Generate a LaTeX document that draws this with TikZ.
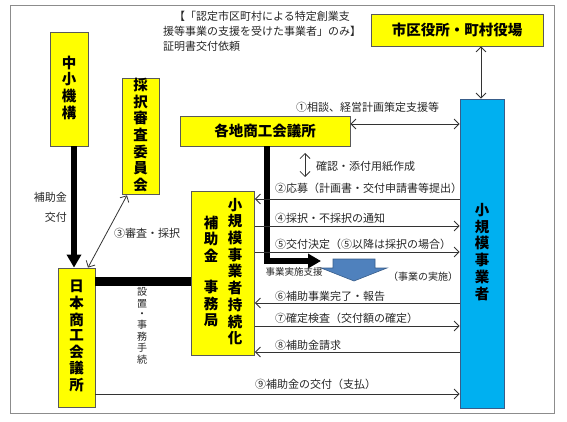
\documentclass[tikz,border=0pt]{standalone}
\usepackage{fontspec}
\setmainfont{Noto Sans CJK JP}
\usetikzlibrary{arrows.meta,positioning}
\definecolor{boxyellow}{RGB}{255,255,0}
\definecolor{boxcyan}{RGB}{0,176,240}
\definecolor{flowblue}{RGB}{79,129,189}
\definecolor{flowedge}{RGB}{56,93,138}
\newcommand{\tate}[1]{\begin{tabular}[c]{@{}c@{}}#1\end{tabular}}

\begin{document}
\begin{tikzpicture}[x=1pt,y=-1pt]
\tikzstyle{org}=[rectangle, draw=black!65, line width=0.8pt, fill=boxyellow, inner sep=0pt, font=\bfseries\fontsize{14.5}{14.5}\selectfont]
\tikzstyle{firm}=[org, fill=boxcyan, draw=flowedge]
\tikzstyle{lbl}=[inner sep=0pt, text=black!85, font=\fontsize{11}{15}\selectfont]
\tikzstyle{connect}=[-{Straight Barb[length=5pt,width=10pt]}, line width=0.8pt, black!80]
\tikzstyle{both}=[{Straight Barb[length=5pt,width=10pt]}-{Straight Barb[length=5pt,width=10pt]}, line width=0.8pt, black!80]
\tikzstyle{heavy}=[-{Triangle[length=13pt,width=14pt]}, line width=5.5pt]
\useasboundingbox (0,0) rectangle (567,422);
\draw[black!45, line width=0.8pt] (10,5) rectangle (554,413);

\node[org, minimum width=38, minimum height=114] (Kiko) at (69,89) {\tate{中\\小\\機\\構}};
\node[org, minimum width=37, minimum height=115] (Shinsa) at (140.5,136.5) {\tate{採\\択\\審\\査\\委\\員\\会}};
\node[org, minimum width=170, minimum height=30] (Kakuchi) at (265,131) {各地商工会議所};
\node[org, minimum width=172, minimum height=32] (Shiku) at (457,30) {市区役所・町村役場};
\node[firm, minimum width=44, minimum height=309] (Shokibo) at (482,253.5) {\tate{小\\規\\模\\事\\業\\者}};
\node[org, minimum width=63, minimum height=164] (Jimu) at (223,273)
  {\begin{tabular}{@{}c@{\hspace{9.5pt}}c@{}}\tate{補\\助\\金\\　\\事\\務\\局} & \tate{小\\規\\模\\事\\業\\者\\持\\続\\化}\end{tabular}};
\node[org, minimum width=37, minimum height=139] (Nissho) at (76.5,337.5) {\tate{日\\本\\商\\工\\会\\議\\所}};

\node[lbl, anchor=north west, align=left] (Shomei) at (163,11)
  {　【「認定市区町村による特定創業支\\援等事業の支援を受けた事業者」のみ】\\証明書交付依頼};

\coordinate (Row1) at (0,124);
\coordinate (Row2) at (0,199);
\coordinate (Row4) at (0,226);
\coordinate (Row5) at (0,252);
\coordinate (Row6) at (0,303);
\coordinate (Row7) at (0,326);
\coordinate (Row8) at (0,352);
\coordinate (Row9) at (0,394);
\coordinate (Setchi) at (0,281);
\coordinate (KakuninTop) at (305,153);
\coordinate (KakuninBot) at (305,177);
\coordinate (ShienEnd) at (321,261);

\draw[heavy] ([xshift=5pt]Kiko.south) -- ([xshift=-2.5pt]Nissho.north);
\draw[line width=9pt] (Nissho.east |- Setchi) -- (Jimu.west |- Setchi);
\draw[heavy] ([xshift=2pt]Kakuchi.south) |- (ShienEnd);
\draw[fill=flowblue, draw=flowedge, line width=0.6pt]
  (333,259) -- (375,259) -- (375,268) -- (387,268) -- (354,281) -- (321,268) -- (333,268) -- cycle;

\path
  ([xshift=-13.5pt]Shinsa.south) edge [both] ([xshift=11.5pt]Nissho.north)
  (Kakuchi.east |- Row1) edge [both] (Shokibo.west |- Row1)
  ([xshift=24pt]Shiku.south) edge [both] ([xshift=-1pt]Shokibo.north)
  (KakuninTop) edge [both] (KakuninBot)
  (Shokibo.west |- Row2) edge [connect] (Jimu.east |- Row2)
  (Jimu.east |- Row4) edge [connect] (Shokibo.west |- Row4)
  (Jimu.east |- Row5) edge [connect] (Shokibo.west |- Row5)
  (Shokibo.west |- Row6) edge [connect] (Jimu.east |- Row6)
  (Jimu.east |- Row7) edge [connect] (Shokibo.west |- Row7)
  (Shokibo.west |- Row8) edge [connect] (Jimu.east |- Row8)
  (Nissho.east |- Row9) edge [connect] (Shokibo.west |- Row9);

\node[lbl, anchor=east, align=right, font=\fontsize{11}{20}\selectfont] (HojoLbl) at (67,207) {補助金\\交付};
\node[lbl] (SaitakuLbl) at (147,233) {③審査・採択};
\node[lbl, font=\fontsize{10}{10.2}\selectfont] (SetchiLbl) at (142,327) {\tate{設\\置\\・\\事\\務\\手\\続}};
\node[lbl, anchor=west] (SodanLbl) at (296,107) {①相談、経営計画策定支援等};
\node[lbl, anchor=west] (KakuninLbl) at (316,166) {確認・添付用紙作成};
\node[lbl, anchor=west] (OboLbl) at (275,188) {②応募（計画書・交付申請書等提出）};
\node[lbl, anchor=west] (TsuchiLbl) at (275,218) {④採択・不採択の通知};
\node[lbl, anchor=west] (KetteiLbl) at (275,244) {⑤交付決定（⑤以降は採択の場合）};
\node[lbl, font=\fontsize{9.5}{11}\selectfont] (ShienLbl) at (294,272) {事業実施支援};
\node[lbl, anchor=west, font=\fontsize{10}{12}\selectfont] (JisshiLbl) at (388,277) {（事業の実施）};
\node[lbl, anchor=west] (KanryoLbl) at (275,296) {⑥補助事業完了・報告};
\node[lbl, anchor=west] (KensaLbl) at (275,318) {⑦確定検査（交付額の確定）};
\node[lbl, anchor=west] (SeikyuLbl) at (275,345) {⑧補助金請求};
\node[lbl, anchor=west] (KofuLbl) at (255,384) {⑨補助金の交付（支払）};
\end{tikzpicture}
\end{document}
